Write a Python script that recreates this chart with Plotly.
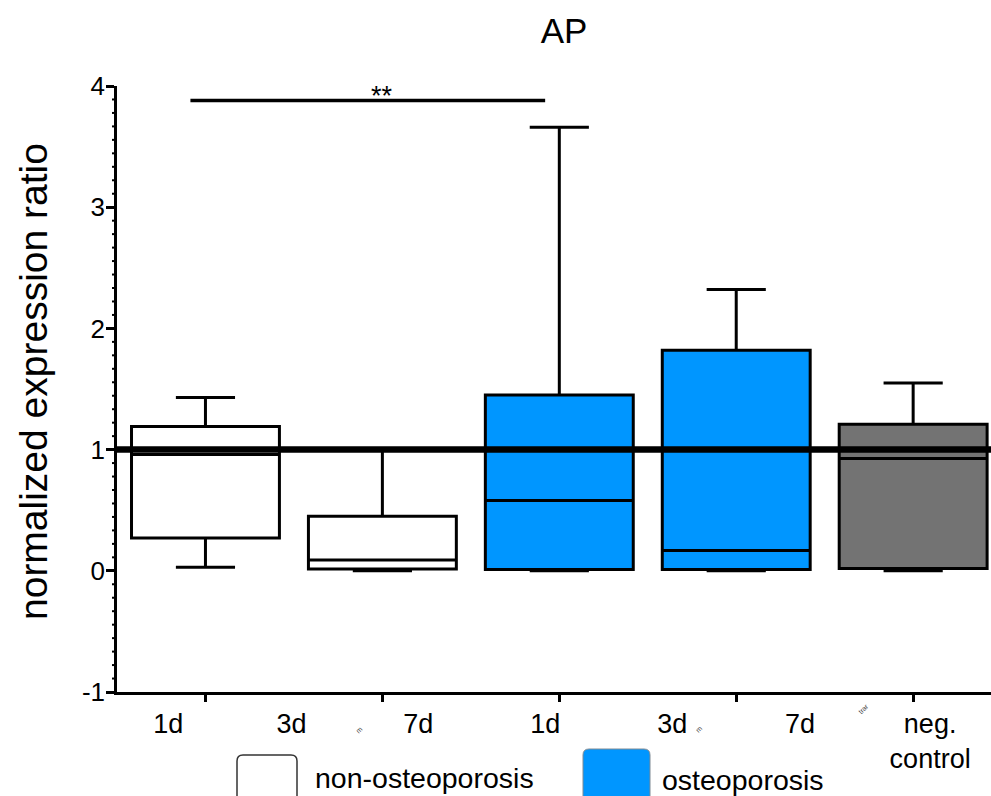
import plotly.graph_objects as go

# Group summary statistics (normalized expression ratio)
groups = ["non-osteoporosis 1d", "non-osteoporosis 3d/7d", "osteoporosis 1d", "osteoporosis 3d/7d", "neg. control"]
positions = [0, 1, 2, 3, 4]
lower_fence = [0.03, 0.0, 0.0, 0.0, 0.0]
q1 = [0.27, 0.015, 0.01, 0.01, 0.02]
median = [0.96, 0.09, 0.58, 0.168, 0.926]
q3 = [1.19, 0.45, 1.45, 1.82, 1.21]
upper_fence = [1.43, 1.0, 3.66, 2.32, 1.55]
fill_colors = ["white", "white", "#0096FF", "#0096FF", "#737373"]

# Category labels along the x axis
tick_labels = ["1d", "3d", "7d", "1d", "3d", "7d", "neg.<br>control"]
tick_label_pos = [-0.21, 0.486, 1.203, 1.921, 2.638, 3.36, 4.096]

# y axis ticks
y_ticks = [-1, 0, 1, 2, 3, 4]
y_tick_text = ["-1", "0", "1", "2", "3", "4"]

# Reference level and significance bracket
reference_level = 1.0
sig_bracket = {"x0": -0.085, "x1": 1.92, "y": 3.88, "text": "**"}

FONT = "Arial, Liberation Sans, sans-serif"

fig = go.Figure()
for i in range(len(positions)):
    fig.add_trace(go.Box(
        x=[positions[i]], q1=[q1[i]], median=[median[i]], q3=[q3[i]],
        lowerfence=[lower_fence[i]], upperfence=[upper_fence[i]],
        width=0.836, whiskerwidth=0.4, fillcolor=fill_colors[i],
        line=dict(color="black", width=3), boxpoints=False,
        name=groups[i], showlegend=False, hoverinfo="skip",
    ))

# carrier trace for the label axis
fig.add_trace(go.Scatter(x=[None], y=[None], xaxis="x2", showlegend=False, hoverinfo="skip"))

L, R, T, B = 117, 0, 86, 104
W, H = 991, 796
pw, ph = W - L - R, H - T - B

def px(xp):
    return (xp - L) / pw

def py(yp):
    return (H - B - yp) / ph

shapes = [
    dict(type="line", xref="paper", yref="y", x0=0, x1=1, y0=reference_level, y1=reference_level,
         line=dict(color="black", width=6.5), layer="above"),
    dict(type="line", xref="x", yref="y", x0=sig_bracket["x0"], x1=sig_bracket["x1"],
         y0=sig_bracket["y"], y1=sig_bracket["y"], line=dict(color="black", width=3.5)),
]

# minor tick marks on the y axis: nine subdivisions per unit
for k in range(9 * (y_ticks[-1] - y_ticks[0]) + 1):
    if k % 9:
        v = y_ticks[0] + k / 9
        shapes.append(dict(type="line", xref="paper", yref="y", x0=-5 / pw, x1=0, y0=v, y1=v,
                           line=dict(color="black", width=2)))

def rounded_top_box(x0p, x1p, y0p, y1p, r=6):
    # rectangle with rounded top corners, pixel inputs converted to paper units
    rx, ry = r / pw, r / ph
    a, b = px(x0p), px(x1p)
    top, bot = py(y0p), py(y1p)
    return (f"M {a} {bot} L {a} {top - ry} Q {a} {top} {a + rx} {top} "
            f"L {b - rx} {top} Q {b} {top} {b} {top - ry} L {b} {bot}")

shapes.append(dict(type="path", xref="paper", yref="paper",
                   path=rounded_top_box(237, 297, 755, 812), fillcolor="white",
                   line=dict(color="#333333", width=1.5)))
shapes.append(dict(type="path", xref="paper", yref="paper",
                   path=rounded_top_box(583, 650, 749, 812), fillcolor="#0096FF",
                   line=dict(color="#7f8a94", width=1)))

annotations = [
    dict(x=1.0, y=sig_bracket["y"], xref="x", yref="y", text=sig_bracket["text"], showarrow=False,
         font=dict(family=FONT, size=27, color="black"), yanchor="bottom", yshift=-12),
    dict(x=px(33), y=py(382), xref="paper", yref="paper", text="normalized expression ratio",
         textangle=-90, showarrow=False, font=dict(family=FONT, size=39, color="black"),
         xanchor="center", yanchor="middle"),
    dict(x=px(313), y=py(778), xref="paper", yref="paper", text="non-osteoporosis", showarrow=False,
         xanchor="left", yanchor="middle", font=dict(family=FONT, size=28.5, color="black")),
    dict(x=px(660), y=py(780), xref="paper", yref="paper", text="osteoporosis", showarrow=False,
         xanchor="left", yanchor="middle", font=dict(family=FONT, size=28.5, color="black")),
]
for tx, xp, yp in [("m", 352, 737), ("m", 706, 737), ("trar", 873, 718)]:
    annotations.append(dict(x=px(xp), y=py(yp), xref="paper", yref="paper", text=tx, showarrow=False,
                            textangle=-45, font=dict(family=FONT, size=7, color="#444444")))

fig.update_layout(
    width=W, height=H,
    margin=dict(l=L, r=R, t=T, b=B, pad=0),
    paper_bgcolor="white", plot_bgcolor="white",
    title=dict(text="AP", x=564 / W, xanchor="center", y=1 - 31 / H, yanchor="middle",
               font=dict(family=FONT, size=35, color="black")),
    xaxis=dict(range=[-0.5, 4.44], tickvals=positions, showticklabels=False,
               ticks="outside", ticklen=7, tickwidth=2.5, tickcolor="black",
               showline=True, linecolor="black", linewidth=2.5,
               showgrid=False, zeroline=False, fixedrange=True),
    xaxis2=dict(overlaying="x", side="bottom", anchor="y", range=[-0.5, 4.44],
                tickvals=tick_label_pos, ticktext=tick_labels, ticks="",
                showline=False, showgrid=False, zeroline=False,
                tickfont=dict(family=FONT, size=27, color="black"), ticklabelstandoff=13),
    yaxis=dict(range=[-1, 4], tickvals=y_ticks, ticktext=y_tick_text,
               ticks="outside", ticklen=8, tickwidth=2.5, tickcolor="black",
               showline=True, linecolor="black", linewidth=2.5,
               showgrid=False, zeroline=False, ticklabelstandoff=-4,
               tickfont=dict(family=FONT, size=26, color="black")),
    shapes=shapes, annotations=annotations,
    showlegend=False,
)

fig.write_html("out.html")
